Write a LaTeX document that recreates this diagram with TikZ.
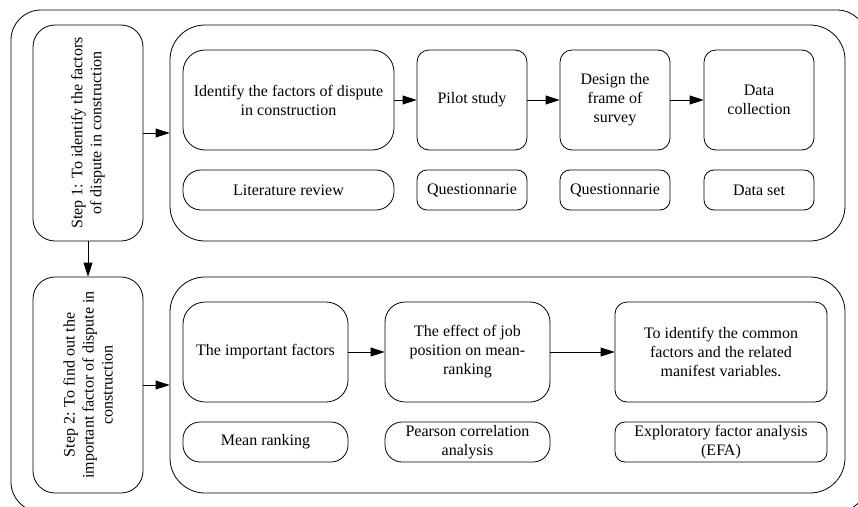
\documentclass[tikz,border=0pt]{standalone}
\usepackage{fontspec}
\setmainfont{Liberation Serif}
\usepackage{tikz}
\usetikzlibrary{arrows.meta}

\tikzset{
    stepbox/.style={draw, line width=0.8pt, rounded corners=22pt,
        minimum width=110pt, minimum height=216pt, inner sep=0pt},
    groupbox/.style={draw, line width=0.8pt, rounded corners=35pt,
        minimum width=675pt, minimum height=216pt, inner sep=0pt},
    stagebox/.style={draw, line width=0.8pt, rounded corners=12pt,
        minimum height=100pt, inner sep=0pt, align=center},
    toolbox/.style={draw, line width=0.8pt, rounded corners=10pt,
        minimum height=40pt, inner sep=0pt, align=center},
    flow/.style={line width=0.8pt, -{Triangle[length=14pt,width=9pt]}}
}

\begin{document}
\begin{tikzpicture}[x=1pt, y=-1pt, font=\fontsize{16}{19}\selectfont]
    \useasboundingbox (0,0) rectangle (858,506);
    \clip (0,0) rectangle (858,506);
    \draw[line width=0.8pt, rounded corners=30pt] (11,10) rectangle (867,512);

    % step boxes on the left
    \node[stepbox] (step1) at (88,133) {};
    \node[rotate=90, align=center] (step1text) at (step1) {Step 1: To identify the factors\\of dispute in construction};
    \node[stepbox] (step2) at (88,385) {};
    \node[rotate=90, align=center] (step2text) at (step2) {Step 2: To find out the\\important factor of dispute in\\construction};

    \node[groupbox] (group1) at (507.5,133) {};
    \node[groupbox] (group2) at (507.5,385) {};

    % first step
    \node[stagebox, minimum width=211pt, rounded corners=22pt] (identify) at (288.5,100) {Identify the factors of dispute\\in construction};
    \node[stagebox, minimum width=110pt] (pilot) at (472,100) {Pilot study};
    \node[stagebox, minimum width=110pt] (design) at (615,100) {Design the\\frame of\\survey};
    \node[stagebox, minimum width=110pt] (datacol) at (759,100) {Data\\collection};

    \node[toolbox, minimum width=211pt, rounded corners=18pt] (litrev) at (288.5,190) {Literature review};
    \node[toolbox, minimum width=110pt] (quest1) at (472,190) {Questionnarie};
    \node[toolbox, minimum width=110pt] (quest2) at (615,190) {Questionnarie};
    \node[toolbox, minimum width=110pt] (dataset) at (759,190) {Data set};

    % second step
    \node[stagebox, minimum width=165pt, rounded corners=22pt] (important) at (265.5,352) {The important factors};
    \node[stagebox, minimum width=165pt, rounded corners=20pt] (effect) at (467.5,352) {The effect of job\\position on mean-\\ranking};
    \node[stagebox, minimum width=212pt] (common) at (721,352) {To identify the common\\factors and the related\\manifest variables.};

    \node[toolbox, minimum width=165pt, rounded corners=17pt] (meanrank) at (265.5,442) {Mean ranking};
    \node[toolbox, minimum width=165pt, rounded corners=17pt] (pearson) at (467.5,442) {Pearson correlation\\analysis};
    \node[toolbox, minimum width=212pt] (efa) at (721,442) {Exploratory factor analysis\\(EFA)};

    \draw[flow] (step1) -- (step2);
    \draw[flow] (step1) -- (group1);
    \draw[flow] (step2) -- (group2);
    \draw[flow] (identify) -- (pilot);
    \draw[flow] (pilot) -- (design);
    \draw[flow] (design) -- (datacol);
    \draw[flow] (important) -- (effect);
    \draw[flow] (effect) -- (common);
\end{tikzpicture}
\end{document}
